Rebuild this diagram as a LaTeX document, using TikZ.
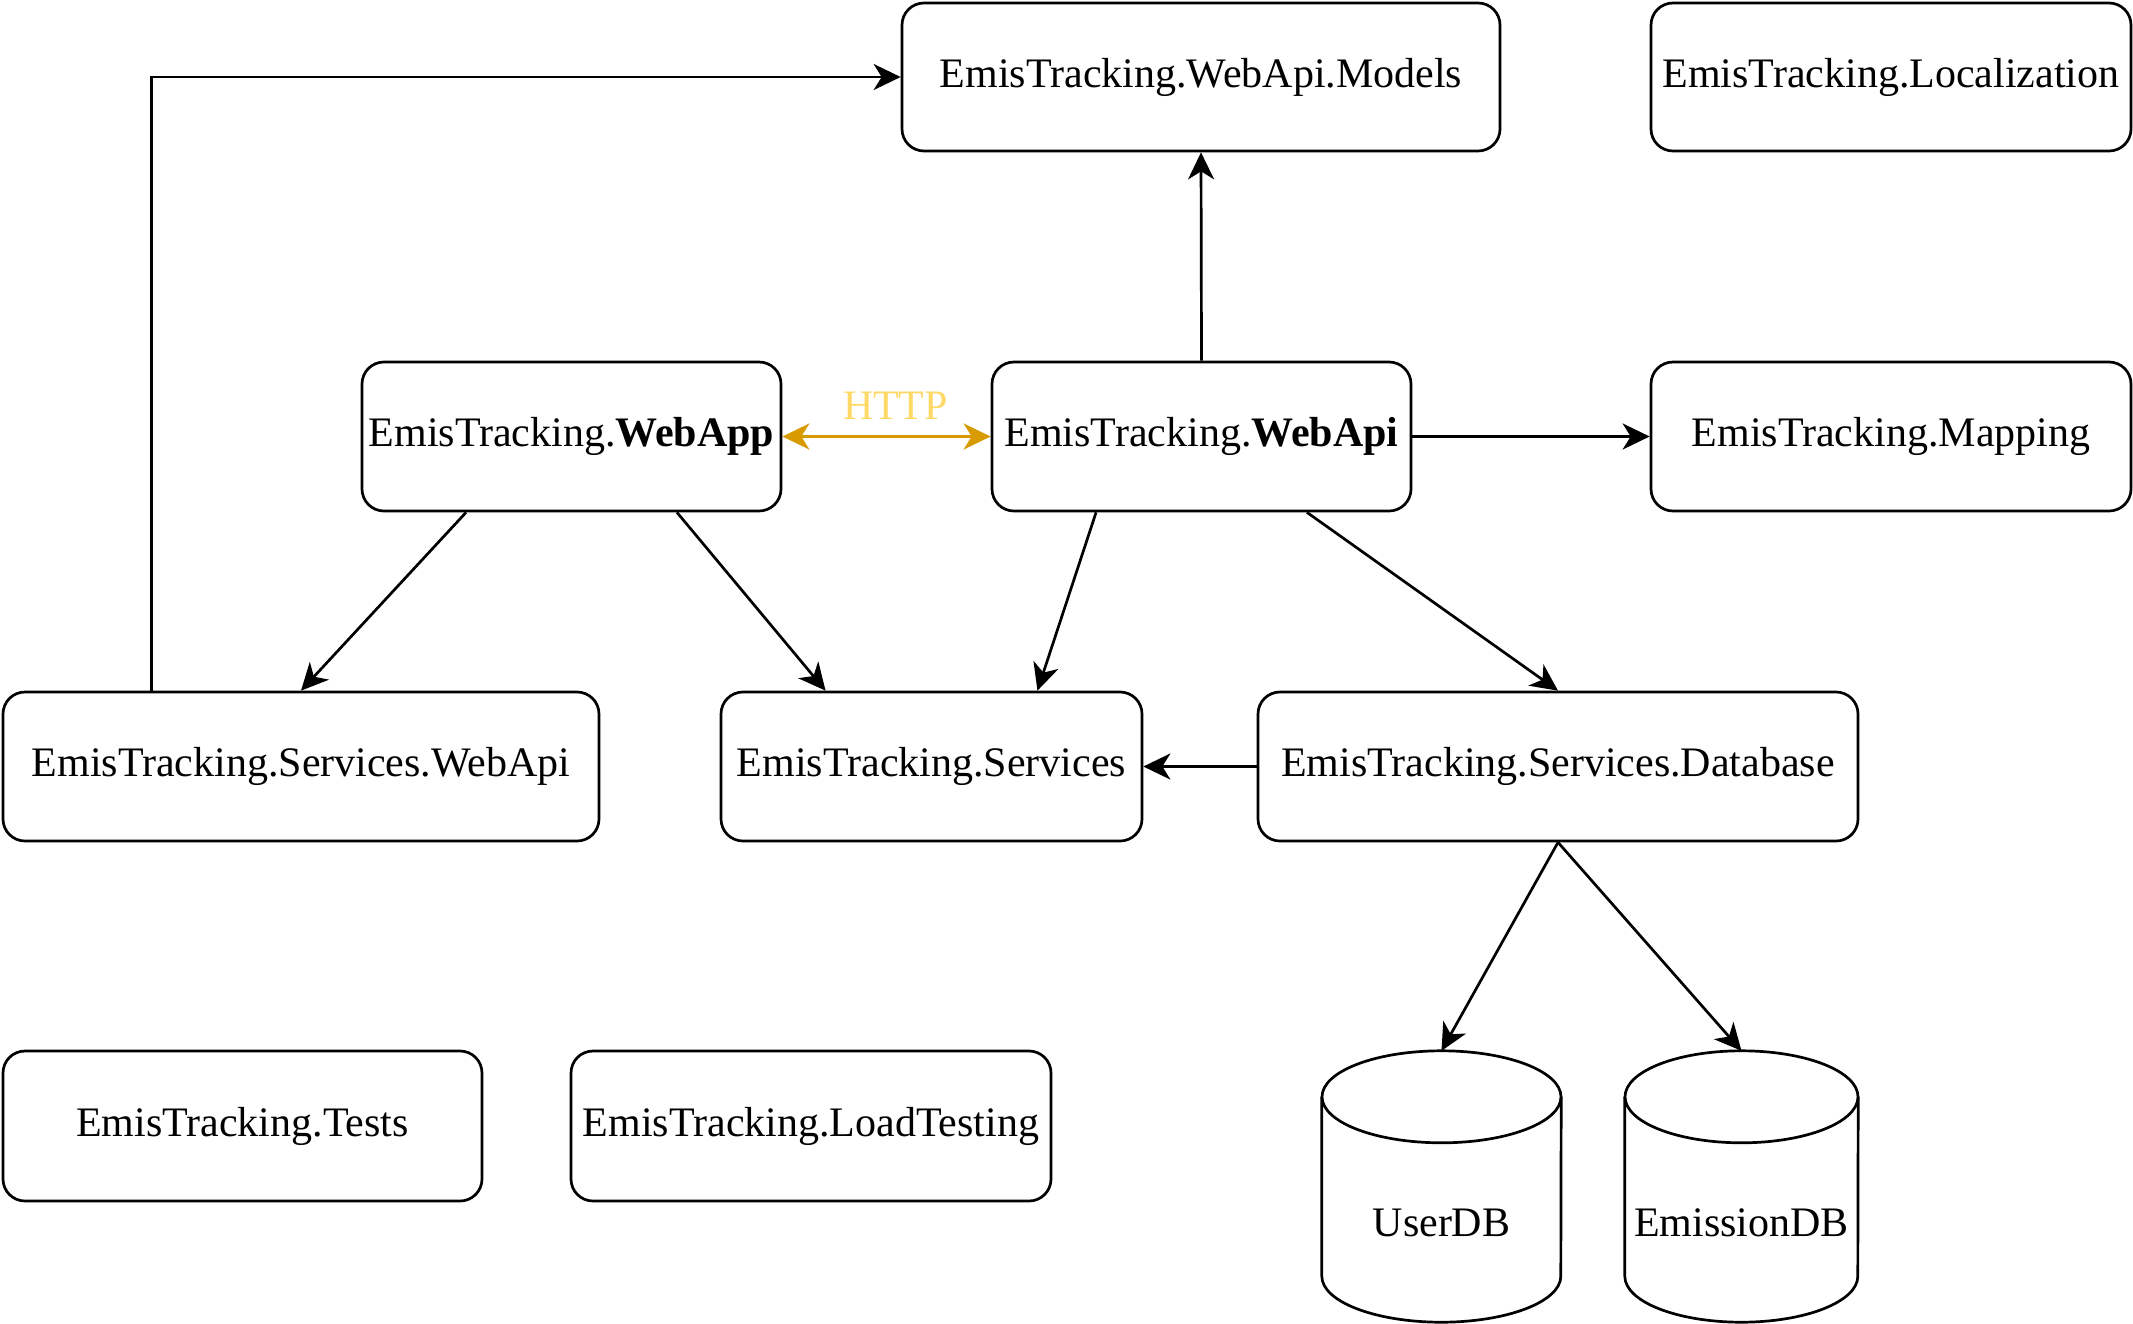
\documentclass[tikz,border=0pt]{standalone}
\usepackage{fontspec}
\setmainfont{Liberation Serif}
\usetikzlibrary{arrows.meta,calc}
\definecolor{httpline}{HTML}{D79B00}
\definecolor{httptext}{HTML}{FFD966}
\begin{document}
\begin{tikzpicture}[x=1pt,y=-1pt,
  lbl/.style={font=\fontsize{42}{50}\selectfont},
  box/.style={draw, line width=2.7pt, rounded corners=22pt, inner sep=0pt, lbl, align=center},
  dbshape/.style={inner sep=0pt, minimum width=#1, minimum height=271pt},
  conn/.style={line width=2.7pt, -{Stealth[length=27pt,width=26pt,inset=8pt]}},
  both/.style={line width=2.7pt, {Stealth[length=27pt,width=26pt,inset=8pt]}-{Stealth[length=27pt,width=26pt,inset=8pt]}}
]
\useasboundingbox (0,0) rectangle (2133,1323);

\node[box, minimum width=598pt, minimum height=148pt] (models) at (1201,77) {EmisTracking.WebApi.Models};
\node[box, minimum width=480pt, minimum height=148pt] (local) at (1891,77) {EmisTracking.Localization};
\node[box, minimum width=419pt, minimum height=149pt] (webapp) at (571.5,436.5) {EmisTracking.\textbf{WebApp}};
\node[box, minimum width=419pt, minimum height=149pt] (webapi) at (1201.5,436.5) {EmisTracking.\textbf{WebApi}};
\node[box, minimum width=480pt, minimum height=149pt] (mapping) at (1891,436.5) {EmisTracking.Mapping};
\node[box, minimum width=596pt, minimum height=149pt] (swebapi) at (301,766.5) {EmisTracking.Services.WebApi};
\node[box, minimum width=421pt, minimum height=149pt] (services) at (931.5,766.5) {EmisTracking.Services};
\node[box, minimum width=600pt, minimum height=149pt] (database) at (1558,766.5) {EmisTracking.Services.Database};
\node[box, minimum width=479pt, minimum height=150pt] (tests) at (242.5,1126) {EmisTracking.Tests};
\node[box, minimum width=480pt, minimum height=150pt] (loadtest) at (811,1126) {EmisTracking.LoadTesting};

% databases
\node[dbshape=239pt] (userdb) at (1441.5,1186.5) {};
\node[dbshape=233pt] (emisdb) at (1741.5,1186.5) {};
\foreach \n/\rx in {userdb/119.5,emisdb/116.5}{
  \draw[line width=2.7pt] ($(\n.north)+(0,46)$) ellipse[x radius=\rx pt, y radius=46pt];
  \draw[line width=2.7pt] ($(\n.north west)+(0,46)$) -- ($(\n.south west)+(0,-46)$)
     arc[start angle=180, end angle=360, x radius=\rx pt, y radius=46pt]
     -- ($(\n.north east)+(0,46)$);
}
\node[lbl] (userdbtext) at ($(userdb.center)+(0,36)$) {UserDB};
\node[lbl] (emisdbtext) at ($(emisdb.center)+(0,36)$) {EmissionDB};

% connectors
\draw[conn] ($(swebapi.north west)!0.25!(swebapi.north east)$) |- (models.west);
\draw[conn] (webapi.north) -- (models.south);
\draw[both, httpline] (webapp.east) -- node[above=12pt, xshift=9pt, lbl, text=httptext] (http) {HTTP} (webapi.west);
\draw[conn] (webapi.east) -- (mapping.west);
\draw[conn] ($(webapp.south west)!0.25!(webapp.south east)$) -- (swebapi.north);
\draw[conn] ($(webapp.south west)!0.75!(webapp.south east)$) -- ($(services.north west)!0.25!(services.north east)$);
\draw[conn] ($(webapi.south west)!0.25!(webapi.south east)$) -- ($(services.north west)!0.75!(services.north east)$);
\draw[conn] ($(webapi.south west)!0.75!(webapi.south east)$) -- (database.north);
\draw[conn] (database.west) -- (services.east);
\draw[conn] (database.south) -- (userdb.north);
\draw[conn] (database.south) -- (emisdb.north);
\end{tikzpicture}
\end{document}
